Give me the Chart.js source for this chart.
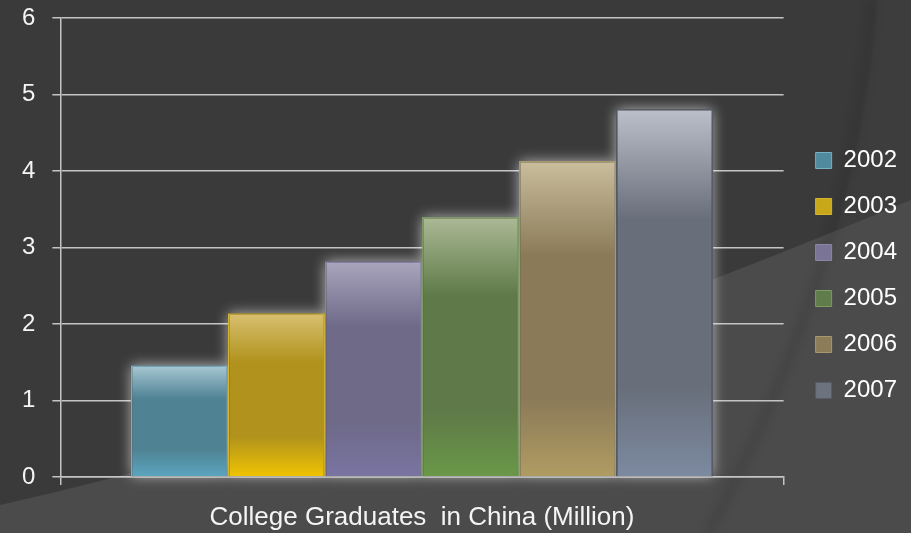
<!DOCTYPE html>
<html>
<head>
<meta charset="utf-8">
<script src="https://cdn.jsdelivr.net/npm/chart.js@4/dist/chart.umd.min.js"></script>
<style>
  html, body { margin: 0; padding: 0; background: #3a3a3a; }
  #wrap { width: 911px; height: 533px; }
</style>
</head>
<body>
<div id="wrap"><canvas id="gradChart" width="911" height="533"></canvas></div>
<script>
const categories = ['College Graduates  in China (Million)'];
const years = ['2002', '2003', '2004', '2005', '2006', '2007'];
const values = [1.46, 2.14, 2.82, 3.40, 4.13, 4.81];
const yTicks = [0, 1, 2, 3, 4, 5, 6];

// top / middle / bottom of each bar's glassy gradient
const topColors = ['#a8c8d4', '#d8c070', '#aaa6be', '#acba96', '#cabe9c', '#bcc0ca'];
const midColors = ['#4f8293', '#b0921c', '#6e6a88', '#5f7a48', '#8a7a58', '#686e7a'];
const lowColors = ['#5ba6c0', '#f0c402', '#7a74a2', '#6a9848', '#b09c62', '#7c8aa0'];
const edgeColors = ['#78b0c4', '#d4b430', '#8a86a8', '#7e9a66', '#a8986e', '#585c66'];
const legendColors = ['#4f8a9e', '#c8a818', '#7a7496', '#607c4a', '#8c7c58', '#6c727e'];

const ctx = document.getElementById('gradChart').getContext('2d');

function barGradient(c, i) {
    const chart = c.chart;
    const y = chart.scales && chart.scales.y;
    if (!chart.chartArea || !y || c.raw === undefined) return midColors[i];
    const top = y.getPixelForValue(c.raw);
    const base = y.getPixelForValue(0);
    const g = chart.ctx.createLinearGradient(0, top, 0, base);
    g.addColorStop(0, topColors[i]);
    g.addColorStop(0.3, midColors[i]);
    g.addColorStop(0.75, midColors[i]);
    g.addColorStop(1, lowColors[i]);
    return g;
}

// dark slide background with the lighter swoosh in the lower right
const backdrop = {
    id: 'backdrop',
    beforeDraw(chart) {
        const c = chart.ctx;
        const w = chart.width, h = chart.height;
        c.save();
        c.fillStyle = '#3a3a3a';
        c.fillRect(0, 0, w, h);
        c.fillStyle = '#3d3d3d';
        c.beginPath();
        c.moveTo(877, 0);
        c.bezierCurveTo(866, 150, 822, 330, 713, h);
        c.lineTo(w, h);
        c.lineTo(w, 0);
        c.closePath();
        c.fill();
        c.fillStyle = '#4b4b4b';
        c.beginPath();
        c.moveTo(0, 505);
        c.quadraticCurveTo(380, 420, w, 200);
        c.lineTo(w, h);
        c.lineTo(0, h);
        c.closePath();
        c.fill();
        // soft shadow along the curved edge
        c.filter = 'blur(5px)';
        c.strokeStyle = 'rgba(0,0,0,0.1)';
        c.lineWidth = 8;
        c.beginPath();
        c.moveTo(872, 0);
        c.bezierCurveTo(861, 150, 817, 330, 708, h);
        c.stroke();
        c.restore();
    }
};

// white glow around the bars, drawn under them
const glow = {
    id: 'glow',
    beforeDatasetsDraw(chart) {
        const c = chart.ctx;
        c.save();
        c.shadowColor = 'rgba(255,255,255,0.65)';
        c.shadowBlur = 13;
        c.fillStyle = '#3a3a3a';
        chart.data.datasets.forEach((d, i) => {
            chart.getDatasetMeta(i).data.forEach(bar => {
                const p = bar.getProps(['x', 'y', 'base', 'width'], true);
                c.fillRect(p.x - p.width / 2, p.y, p.width, p.base - p.y);
            });
        });
        c.restore();
    }
};

const datasets = years.map((yr, i) => ({
    label: yr,
    data: [values[i]],
    backgroundColor: c => barGradient(c, i),
    borderColor: edgeColors[i],
    borderWidth: 1.5,
    borderSkipped: 'bottom'
}));

const gridGray = '#c4c4c4';

new Chart(ctx, {
    type: 'bar',
    data: { labels: categories, datasets: datasets },
    plugins: [backdrop, glow],
    options: {
        responsive: false,
        maintainAspectRatio: false,
        animation: false,
        layout: { padding: { left: 5, top: 18, right: 4, bottom: 0 } },
        datasets: { bar: { categoryPercentage: 0.805, barPercentage: 1 } },
        scales: {
            x: {
                grid: { drawOnChartArea: false, color: gridGray, lineWidth: 1.5, tickLength: 8 },
                border: { color: gridGray, width: 1.5 },
                ticks: { color: '#f4f4f4', padding: 17, font: { family: 'Liberation Sans', size: 26 } },
                afterFit: s => { s.height = 56; }
            },
            y: {
                min: 0,
                max: 6,
                afterBuildTicks: s => { s.ticks = yTicks.map(v => ({ value: v })); },
                grid: { color: gridGray, lineWidth: 1.5, tickLength: 8 },
                border: { color: gridGray, width: 1.5 },
                ticks: { color: '#f4f4f4', padding: 17, font: { family: 'Liberation Sans', size: 24 } },
                afterFit: s => { s.paddingTop = 0; s.paddingBottom = 0; }
            },
            spacer: {
                type: 'linear',
                position: 'right',
                grid: { drawOnChartArea: false, drawTicks: false },
                border: { display: false },
                ticks: { display: false },
                afterFit: s => { s.width = 10; }
            }
        },
        plugins: {
            legend: {
                position: 'right',
                align: 'center',
                labels: {
                    color: '#ffffff',
                    boxWidth: 16,
                    boxHeight: 16,
                    padding: 22,
                    font: { family: 'Liberation Sans', size: 24 },
                    generateLabels: chart => chart.data.datasets.map((d, i) => ({
                        text: d.label,
                        fillStyle: legendColors[i],
                        strokeStyle: edgeColors[i],
                        lineWidth: 1,
                        fontColor: '#ffffff',
                        datasetIndex: i
                    }))
                }
            },
            tooltip: { enabled: false }
        }
    }
});
</script>
</body>
</html>
